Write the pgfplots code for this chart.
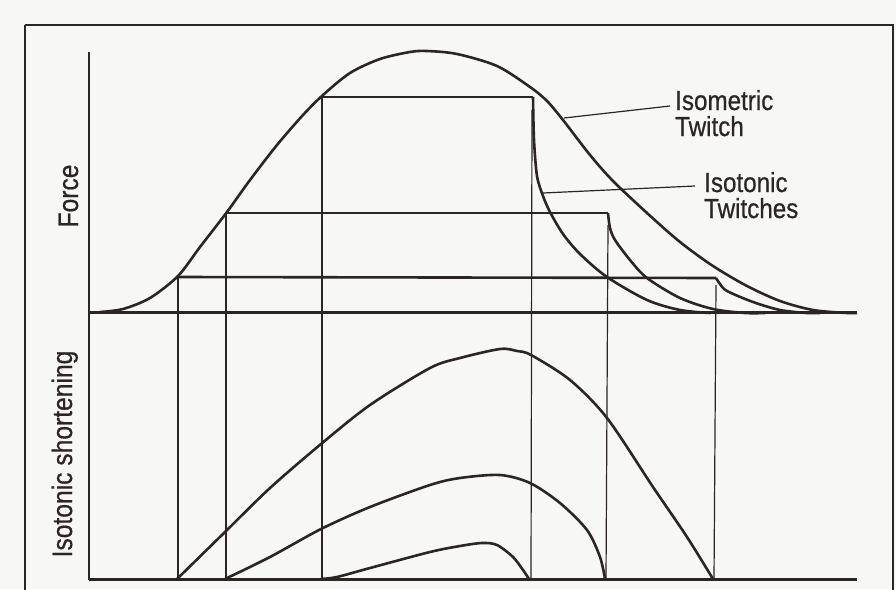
\documentclass[border=0pt]{standalone}
\usepackage{pgfplots}
\pgfplotsset{compat=1.18}
\usepackage{fontspec}
\setmainfont{Liberation Sans}
\newfontfamily\lab[FakeStretch=0.88,FakeBold=0.6]{Liberation Sans}
\definecolor{ink}{HTML}{2B2523}
\definecolor{paper}{HTML}{F7F7F6}
\begin{document}
\begin{tikzpicture}
\begin{axis}[
  scale only axis, width=896pt, height=589pt,
  xmin=0, xmax=896, ymin=0, ymax=589, y dir=reverse,
  axis line style={draw=none}, ticks=none,
  axis background/.style={fill=paper},
  clip=true,
  every axis plot/.append style={color=ink, no markers},
  thickl/.style={line width=2.6pt},
  thinl/.style={line width=1.2pt},
]
% frame
\addplot[line width=1.4pt] coordinates {(25,25) (893,25) (893,600) (25,600) (25,25)};
% axes
\addplot[line width=2.6pt] coordinates {(89,52) (89,580)};
\addplot[thickl] coordinates {(89,312.5) (857,312.5)};
\addplot[thickl] coordinates {(89,579.5) (857,579.5)};
% vertical thin lines
\addplot[thinl] coordinates {(178,277) (178,579)};
\addplot[thinl] coordinates {(226,213) (226,579)};
\addplot[thinl] coordinates {(322,97) (322,579)};
\addplot[thinl] coordinates {(532,110) (531,579)};
\addplot[thinl] coordinates {(608,225) (606,579)};
\addplot[thinl] coordinates {(716,285) (714,579)};
% isometric twitch
\addplot[thickl, smooth] coordinates {
(100,312) (123,309) (150,298) (178,276) (200,247) (227,212) (250,180) (277,145)
(303,115) (323,95) (350,73) (380,59) (410,52) (427,51) (457,54) (497,66) (530,87)
(547,101) (563,120) (590,155) (613,181) (647,213) (680,242) (713,266) (747,286)
(780,301) (813,310) (847,313) (857,313)};
% isotonic twitch force records
\addplot[thickl] coordinates {(322,97) (533,97)};
\addplot[thickl, smooth] coordinates {(533,97) (534,140) (537,176) (543,196) (550,212)
(563,234) (580,254) (607,277) (647,300) (680,310) (710,313)};
\addplot[thickl] coordinates {(226,213) (608,213)};
\addplot[thickl, smooth] coordinates {(608,213) (610,228) (615,240) (630,260) (647,278)
(680,298) (713,309) (745,313) (765,313)};
\addplot[thickl] coordinates {(178,277) (716,278)};
\addplot[thickl, smooth] coordinates {(716,278) (720,284) (727,291) (753,302) (780,310)
(807,313) (820,313)};
% isotonic shortening
\addplot[thickl, smooth] coordinates {(177,579) (225,532) (270,488) (321,444) (370,405)
(430,368) (460,358) (500,349) (517,351) (531,355) (570,380) (607,418) (653,487) (687,537) (713,579)};
\addplot[thickl, smooth] coordinates {(225,579) (270,557) (321,529) (370,507) (430,485)
(460,478) (500,475) (530,483) (560,503) (587,530) (600,557) (605,579)};
\addplot[thickl, smooth] coordinates {(321,579) (337,577) (370,568) (430,552) (460,546)
(482,543) (497,545) (513,557) (523,570) (529,579)};
% leaders
\addplot[thinl] coordinates {(564,118) (670,106)};
\addplot[thinl] coordinates {(543,193) (695,186)};
% labels
\node[font=\lab\fontsize{28}{30}\selectfont, rotate=90, anchor=base, inner sep=0, text=ink] at (axis cs:78,196) {Force};
\node[font=\lab\fontsize{28}{30}\selectfont, rotate=90, anchor=base, inner sep=0, text=ink] at (axis cs:72,454) {Isotonic shortening};
\node[font=\lab\fontsize{27.5}{26}\selectfont, align=left, anchor=base west, inner sep=0, text=ink] at (axis cs:675,136) {Isometric\\Twitch};
\node[font=\lab\fontsize{27.5}{26}\selectfont, align=left, anchor=base west, inner sep=0, text=ink] at (axis cs:704,218) {Isotonic\\Twitches};
\end{axis}
\end{tikzpicture}
\end{document}
